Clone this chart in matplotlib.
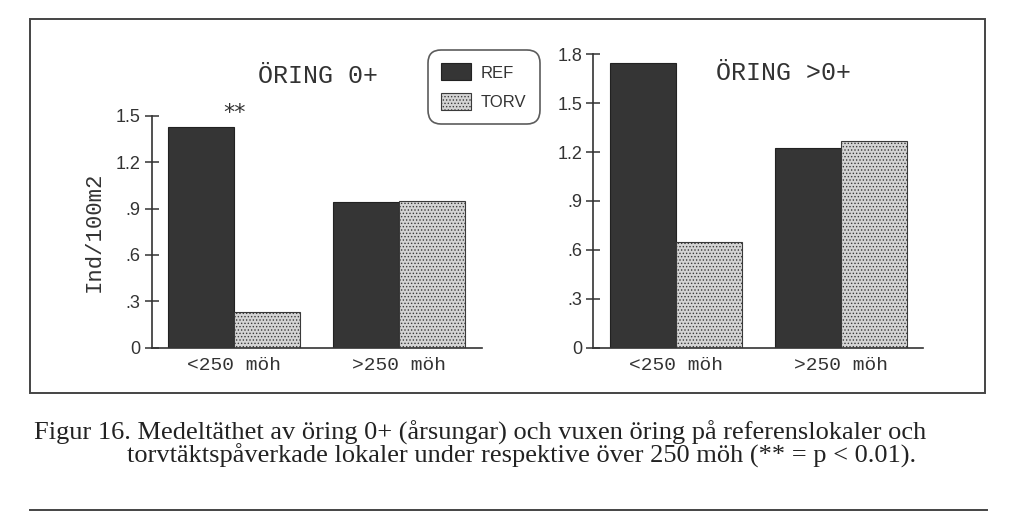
import matplotlib
matplotlib.use("Agg")
import matplotlib.pyplot as plt
from matplotlib.patches import Rectangle
from matplotlib.lines import Line2D
import numpy as np

# Mean density (Ind/100m2), reference vs peat-affected sites
groups = ["<250 möh", ">250 möh"]
ref_0 = [1.43, 0.94]
torv_0 = [0.23, 0.95]
ref_older = [1.745, 1.225]
torv_older = [0.65, 1.27]

ticks_0 = [0, 0.3, 0.6, 0.9, 1.2, 1.5]
ticks_older = [0, 0.3, 0.6, 0.9, 1.2, 1.5, 1.8]
tick_labels_0 = ["0", ".3", ".6", ".9", "1.2", "1.5"]
tick_labels_older = ["0", ".3", ".6", ".9", "1.2", "1.5", "1.8"]

caption_1 = ("Figur 16. Medeltäthet av öring 0+ (årsungar) och vuxen öring "
             "på referenslokaler och")
caption_2 = ("torvtäktspåverkade lokaler under respektive över 250 möh "
             "(** = p < 0.01).")

ink = "#333333"
plt.rcParams["hatch.linewidth"] = 0.6

fig = plt.figure(figsize=(10.24, 5.13), dpi=100)

ax1 = fig.add_axes([0.1481, 0.3222, 0.3223, 0.4522])
ax2 = fig.add_axes([0.5794, 0.3222, 0.3223, 0.5720])

x = np.arange(len(groups))
w = 0.4


def draw_panel(ax, ref, torv, ticks, labels, top, title, tx, ty):
    b_ref = ax.bar(x - w / 2, ref, w, color="#353535", edgecolor="#222222",
                   linewidth=0.8, label="REF")
    b_torv = ax.bar(x + w / 2, torv, w, color="#d4d4d4", edgecolor="#3a3a3a",
                    hatch=".....", linewidth=0.8, label="TORV")
    ax.set_xlim(-0.5, 1.5)
    ax.set_ylim(0, top)
    ax.set_yticks(ticks)
    ax.set_yticklabels(labels, family="Liberation Sans", fontsize=13,
                       color=ink)
    ax.set_xticks(x)
    ax.set_xticklabels(groups, family="Liberation Mono", fontsize=14,
                       color=ink)
    ax.tick_params(axis="y", direction="inout", length=10, width=1.1,
                   color=ink, pad=3)
    ax.tick_params(axis="x", length=0, pad=7)
    for s in ["top", "right"]:
        ax.spines[s].set_visible(False)
    for s in ["left", "bottom"]:
        ax.spines[s].set_color(ink)
        ax.spines[s].set_linewidth(1.2)
    ax.text(tx, ty, title, transform=ax.transAxes, ha="center", va="center",
            family="Liberation Mono", fontsize=18, color=ink)
    return b_ref, b_torv


b_ref, b_torv = draw_panel(ax1, ref_0, torv_0, ticks_0, tick_labels_0, 1.5,
                           "ÖRING 0+", 0.505, 1.17)
draw_panel(ax2, ref_older, torv_older, ticks_older, tick_labels_older, 1.8,
           "ÖRING >0+", 0.575, 0.935)

ax1.set_ylabel("Ind/100m2", family="Liberation Mono", fontsize=16,
               color=ink, labelpad=8)

# significance marker above the <250 REF bar
ax1.text(0.0, ref_0[0] + 0.09, "**", ha="center", va="center",
         family="DejaVu Sans", fontsize=16, color=ink)

leg = ax1.legend(handles=[b_ref, b_torv], loc="upper left",
                 bbox_to_anchor=(0.4209, 0.896), bbox_transform=fig.transFigure,
                 prop={"family": "Liberation Sans", "size": 12},
                 frameon=True, fancybox=True, handlelength=1.8,
                 handleheight=1.2, handletextpad=0.6, labelspacing=0.75,
                 borderpad=0.6, borderaxespad=0)
leg.get_frame().set_edgecolor(ink)
leg.get_frame().set_linewidth(1.2)
leg.get_frame().set_boxstyle("round,pad=0.2,rounding_size=0.8")
for t in leg.get_texts():
    t.set_color(ink)

# outer frame around both panels
fig.patches.append(Rectangle((0.0293, 0.2339), 0.9326, 0.7291,
                             transform=fig.transFigure, fill=False,
                             edgecolor="#444444", linewidth=1.4))
# separator line at the bottom
fig.lines.append(Line2D([0.0293, 0.9639], [0.006, 0.006],
                        transform=fig.transFigure, color="#444444",
                        linewidth=1.4))

fig.text(0.0332, 0.1423, caption_1, family="Liberation Serif", fontsize=19,
         color="#222222", va="baseline")
fig.text(0.124, 0.0975, caption_2, family="Liberation Serif", fontsize=19,
         color="#222222", va="baseline")

fig.savefig("out.png", dpi=100)
